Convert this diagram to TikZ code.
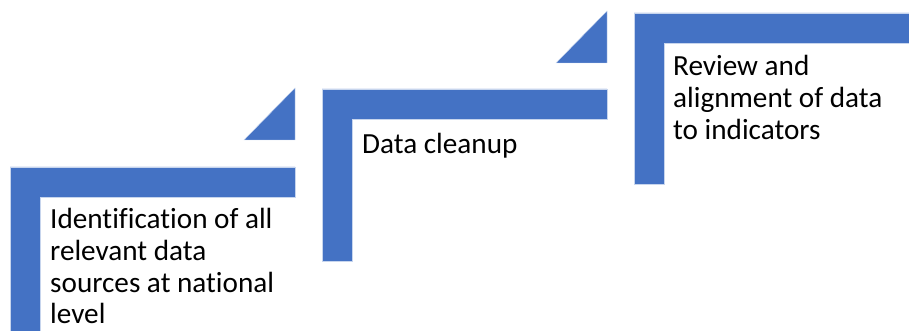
\documentclass[tikz,border=0pt]{standalone}
\usepackage{fontspec}
\setmainfont{Carlito}[Ligatures=NoCommon]
\definecolor{stepblue}{HTML}{4472C4}
\tikzset{stepshape/.style={fill=stepblue,draw=white!70!stepblue,line width=0.4pt},
  steptext/.style={anchor=north west,inner sep=0pt,align=left,
    font=\fontsize{29.2}{31.8}\selectfont}}

\begin{document}
\begin{tikzpicture}[x=1pt,y=-1pt]
\useasboundingbox (0,0) rectangle (909,331);
\clip (0,0) rectangle (909,331);
% corner shapes: left/top/right/bottom
\foreach \l/\t/\r/\b in {10/167/295/345, 322/89/607/261, 634/13/925/184}{
  \path[stepshape] (\l,\t) -- (\r,\t) -- (\r,\t+30) -- (\l+30,\t+30)
    -- (\l+30,\b) -- (\l,\b) -- cycle;
}
% triangles
\foreach \r/\b in {295/140, 607/63}{
  \path[stepshape] (\r-51,\b) -- (\r,\b) -- (\r,\b-52) -- cycle;
}
\node[steptext] (ident) at (50,208) {Identification of all\\relevant data\\sources at national\\level};
\node[steptext] (clean) at (362,133.5) {Data cleanup};
\node[steptext] (review) at (673,55) {Review and\\alignment of data\\to indicators};
\end{tikzpicture}
\end{document}
